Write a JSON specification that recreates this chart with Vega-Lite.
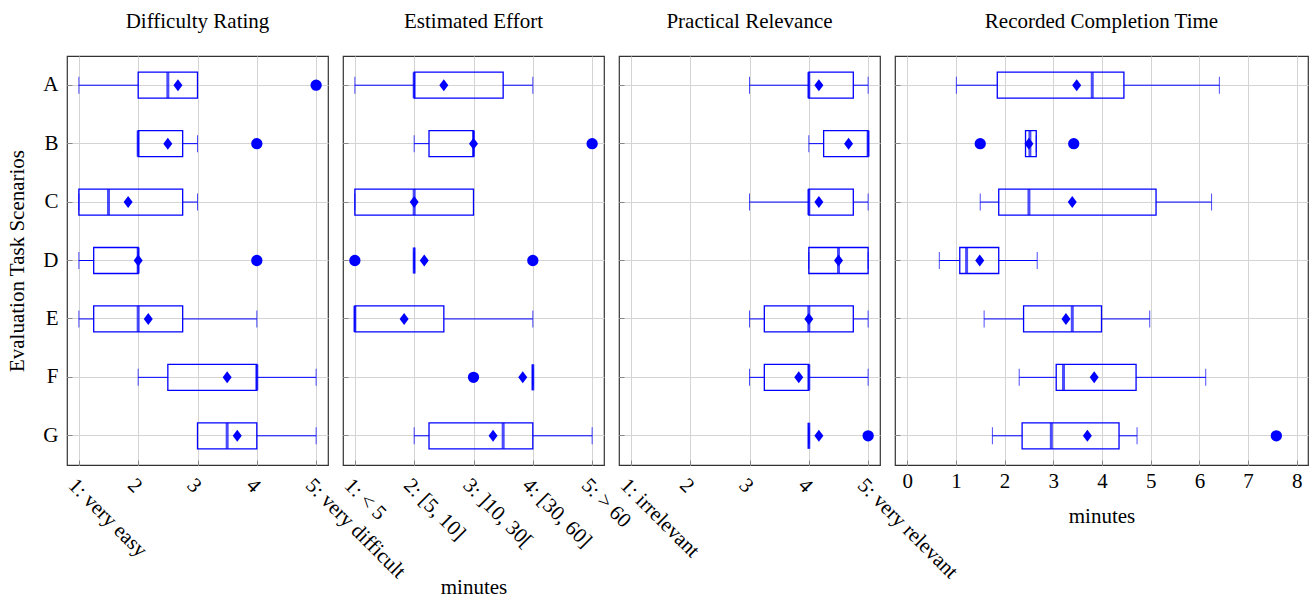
{
  "$schema": "https://vega.github.io/schema/vega-lite/v6.json",
  "padding": {"left": 5, "top": 10, "right": 0, "bottom": 0},
  "background": "white",
  "datasets": {
    "stats": [
      {"panel": "Difficulty", "task": "A", "low": 1, "q1": 2, "median": 2.5, "q3": 3, "high": 3, "mean": 2.67},
      {"panel": "Difficulty", "task": "B", "low": 2, "q1": 2, "median": 2, "q3": 2.75, "high": 3, "mean": 2.5},
      {"panel": "Difficulty", "task": "C", "low": 1, "q1": 1, "median": 1.5, "q3": 2.75, "high": 3, "mean": 1.83},
      {"panel": "Difficulty", "task": "D", "low": 1, "q1": 1.25, "median": 2, "q3": 2, "high": 2, "mean": 2},
      {"panel": "Difficulty", "task": "E", "low": 1, "q1": 1.25, "median": 2, "q3": 2.75, "high": 4, "mean": 2.17},
      {"panel": "Difficulty", "task": "F", "low": 2, "q1": 2.5, "median": 4, "q3": 4, "high": 5, "mean": 3.5},
      {"panel": "Difficulty", "task": "G", "low": 3, "q1": 3, "median": 3.5, "q3": 4, "high": 5, "mean": 3.67},
      {"panel": "Effort", "task": "A", "low": 1, "q1": 2, "median": 2, "q3": 3.5, "high": 4, "mean": 2.5},
      {"panel": "Effort", "task": "B", "low": 2, "q1": 2.25, "median": 3, "q3": 3, "high": 3, "mean": 3},
      {"panel": "Effort", "task": "C", "low": 1, "q1": 1, "median": 2, "q3": 3, "high": 3, "mean": 2},
      {"panel": "Effort", "task": "D", "low": 2, "q1": 2, "median": 2, "q3": 2, "high": 2, "mean": 2.17},
      {"panel": "Effort", "task": "E", "low": 1, "q1": 1, "median": 1, "q3": 2.5, "high": 4, "mean": 1.83},
      {"panel": "Effort", "task": "F", "low": 4, "q1": 4, "median": 4, "q3": 4, "high": 4, "mean": 3.83},
      {"panel": "Effort", "task": "G", "low": 2, "q1": 2.25, "median": 3.5, "q3": 4, "high": 5, "mean": 3.33},
      {"panel": "Relevance", "task": "A", "low": 3, "q1": 4, "median": 4, "q3": 4.75, "high": 5, "mean": 4.17},
      {"panel": "Relevance", "task": "B", "low": 4, "q1": 4.25, "median": 5, "q3": 5, "high": 5, "mean": 4.67},
      {"panel": "Relevance", "task": "C", "low": 3, "q1": 4, "median": 4, "q3": 4.75, "high": 5, "mean": 4.17},
      {"panel": "Relevance", "task": "D", "low": 4, "q1": 4, "median": 4.5, "q3": 5, "high": 5, "mean": 4.5},
      {"panel": "Relevance", "task": "E", "low": 3, "q1": 3.25, "median": 4, "q3": 4.75, "high": 5, "mean": 4},
      {"panel": "Relevance", "task": "F", "low": 3, "q1": 3.25, "median": 4, "q3": 4, "high": 5, "mean": 3.83},
      {"panel": "Relevance", "task": "G", "low": 4, "q1": 4, "median": 4, "q3": 4, "high": 4, "mean": 4.17},
      {"panel": "Time", "task": "A", "low": 1.01, "q1": 1.85, "median": 3.8, "q3": 4.45, "high": 6.41, "mean": 3.48},
      {"panel": "Time", "task": "B", "low": 2.43, "q1": 2.43, "median": 2.52, "q3": 2.65, "high": 2.65, "mean": 2.5},
      {"panel": "Time", "task": "C", "low": 1.5, "q1": 1.88, "median": 2.5, "q3": 5.11, "high": 6.25, "mean": 3.39},
      {"panel": "Time", "task": "D", "low": 0.66, "q1": 1.08, "median": 1.22, "q3": 1.88, "high": 2.67, "mean": 1.49},
      {"panel": "Time", "task": "E", "low": 1.58, "q1": 2.39, "median": 3.39, "q3": 3.99, "high": 4.98, "mean": 3.26},
      {"panel": "Time", "task": "F", "low": 2.3, "q1": 3.06, "median": 3.21, "q3": 4.7, "high": 6.13, "mean": 3.84},
      {"panel": "Time", "task": "G", "low": 1.75, "q1": 2.36, "median": 2.96, "q3": 4.35, "high": 4.72, "mean": 3.7}
    ],
    "outliers": [
      {"panel": "Difficulty", "task": "A", "value": 5},
      {"panel": "Difficulty", "task": "B", "value": 4},
      {"panel": "Difficulty", "task": "D", "value": 4},
      {"panel": "Effort", "task": "B", "value": 5},
      {"panel": "Effort", "task": "D", "value": 1},
      {"panel": "Effort", "task": "D", "value": 4},
      {"panel": "Effort", "task": "F", "value": 3},
      {"panel": "Relevance", "task": "G", "value": 5},
      {"panel": "Time", "task": "B", "value": 1.5},
      {"panel": "Time", "task": "B", "value": 3.42},
      {"panel": "Time", "task": "G", "value": 7.58}
    ]
  },
  "hconcat": [
    {
      "title": "Difficulty Rating",
      "width": 261,
      "height": 409,
      "encoding": {
        "y": {"field": "task", "type": "nominal", "sort": ["A", "B", "C", "D", "E", "F", "G"],
              "scale": {"type": "band", "paddingInner": 0, "paddingOuter": 0},
              "axis": {"title": "Evaluation Task Scenarios", "labelPadding": 14, "minExtent": 25, "maxExtent": 25, "titlePadding": 15}}
      },
      "layer": [
        {"data": {"name": "stats"}, "transform": [{"filter": "datum.panel == 'Difficulty'"}],
         "mark": {"type": "rule", "stroke": "#0000ff", "strokeWidth": 1},
         "encoding": {"x": {"field": "low", "type": "quantitative", "scale": {"domain": [0.8, 5.2], "nice": false, "zero": false},
            "axis": {"title": null, "values": [1, 2, 3, 4, 5], "labelAngle": 45, "labelAlign": "left", "labelBaseline": "top", "labelPadding": 14, "labelOverlap": false,
                     "labelExpr": "datum.value == 1 ? '1: very easy' : datum.value == 5 ? '5: very difficult' : format(datum.value, 'd')"}},
                      "x2": {"field": "q1"}}},
        {"data": {"name": "stats"}, "transform": [{"filter": "datum.panel == 'Difficulty'"}],
         "mark": {"type": "rule", "stroke": "#0000ff", "strokeWidth": 1},
         "encoding": {"x": {"field": "q3", "type": "quantitative"}, "x2": {"field": "high"}}},
        {"data": {"name": "stats"}, "transform": [{"filter": "datum.panel == 'Difficulty'"}],
         "mark": {"type": "tick", "color": "#0000ff", "size": 17, "thickness": 1},
         "encoding": {"x": {"field": "low", "type": "quantitative"}}},
        {"data": {"name": "stats"}, "transform": [{"filter": "datum.panel == 'Difficulty'"}],
         "mark": {"type": "tick", "color": "#0000ff", "size": 17, "thickness": 1},
         "encoding": {"x": {"field": "high", "type": "quantitative"}}},
        {"data": {"name": "stats"}, "transform": [{"filter": "datum.panel == 'Difficulty'"}],
         "mark": {"type": "bar", "size": 26, "fill": "transparent", "stroke": "#0000ff", "strokeWidth": 1.3},
         "encoding": {"x": {"field": "q1", "type": "quantitative"}, "x2": {"field": "q3"}}},
        {"data": {"name": "stats"}, "transform": [{"filter": "datum.panel == 'Difficulty'"}],
         "mark": {"type": "tick", "color": "#0000ff", "size": 26, "thickness": 3},
         "encoding": {"x": {"field": "median", "type": "quantitative"}}},
        {"data": {"name": "stats"}, "transform": [{"filter": "datum.panel == 'Difficulty'"}],
         "mark": {"type": "point", "shape": "M0,-1L0.75,0L0,1L-0.75,0Z", "size": 144, "filled": true, "color": "#0000ff", "opacity": 1},
         "encoding": {"x": {"field": "mean", "type": "quantitative"}}},
        {"data": {"name": "outliers"}, "transform": [{"filter": "datum.panel == 'Difficulty'"}],
         "mark": {"type": "circle", "size": 128, "color": "#0000ff", "opacity": 1},
         "encoding": {"x": {"field": "value", "type": "quantitative"}}}
      ]
    },
    {
      "title": "Estimated Effort",
      "width": 261,
      "height": 409,
      "encoding": {
        "y": {"field": "task", "type": "nominal", "sort": ["A", "B", "C", "D", "E", "F", "G"],
              "scale": {"type": "band", "paddingInner": 0, "paddingOuter": 0},
              "axis": {"title": null, "labels": false}}
      },
      "layer": [
        {"data": {"name": "stats"}, "transform": [{"filter": "datum.panel == 'Effort'"}],
         "mark": {"type": "rule", "stroke": "#0000ff", "strokeWidth": 1},
         "encoding": {"x": {"field": "low", "type": "quantitative", "scale": {"domain": [0.8, 5.2], "nice": false, "zero": false},
            "axis": {"title": "minutes", "titlePadding": 25, "values": [1, 2, 3, 4, 5], "labelAngle": 45, "labelAlign": "left", "labelBaseline": "top", "labelPadding": 14, "labelOverlap": false,
                     "labelExpr": "['', '1: < 5', '2: [5, 10]', '3: ]10, 30[', '4: [30, 60]', '5: > 60'][datum.value]"}},
                      "x2": {"field": "q1"}}},
        {"data": {"name": "stats"}, "transform": [{"filter": "datum.panel == 'Effort'"}],
         "mark": {"type": "rule", "stroke": "#0000ff", "strokeWidth": 1},
         "encoding": {"x": {"field": "q3", "type": "quantitative"}, "x2": {"field": "high"}}},
        {"data": {"name": "stats"}, "transform": [{"filter": "datum.panel == 'Effort'"}],
         "mark": {"type": "tick", "color": "#0000ff", "size": 17, "thickness": 1},
         "encoding": {"x": {"field": "low", "type": "quantitative"}}},
        {"data": {"name": "stats"}, "transform": [{"filter": "datum.panel == 'Effort'"}],
         "mark": {"type": "tick", "color": "#0000ff", "size": 17, "thickness": 1},
         "encoding": {"x": {"field": "high", "type": "quantitative"}}},
        {"data": {"name": "stats"}, "transform": [{"filter": "datum.panel == 'Effort'"}],
         "mark": {"type": "bar", "size": 26, "fill": "transparent", "stroke": "#0000ff", "strokeWidth": 1.3},
         "encoding": {"x": {"field": "q1", "type": "quantitative"}, "x2": {"field": "q3"}}},
        {"data": {"name": "stats"}, "transform": [{"filter": "datum.panel == 'Effort'"}],
         "mark": {"type": "tick", "color": "#0000ff", "size": 26, "thickness": 3},
         "encoding": {"x": {"field": "median", "type": "quantitative"}}},
        {"data": {"name": "stats"}, "transform": [{"filter": "datum.panel == 'Effort'"}],
         "mark": {"type": "point", "shape": "M0,-1L0.75,0L0,1L-0.75,0Z", "size": 144, "filled": true, "color": "#0000ff", "opacity": 1},
         "encoding": {"x": {"field": "mean", "type": "quantitative"}}},
        {"data": {"name": "outliers"}, "transform": [{"filter": "datum.panel == 'Effort'"}],
         "mark": {"type": "circle", "size": 128, "color": "#0000ff", "opacity": 1},
         "encoding": {"x": {"field": "value", "type": "quantitative"}}}
      ]
    },
    {
      "title": "Practical Relevance",
      "width": 261,
      "height": 409,
      "encoding": {
        "y": {"field": "task", "type": "nominal", "sort": ["A", "B", "C", "D", "E", "F", "G"],
              "scale": {"type": "band", "paddingInner": 0, "paddingOuter": 0},
              "axis": {"title": null, "labels": false}}
      },
      "layer": [
        {"data": {"name": "stats"}, "transform": [{"filter": "datum.panel == 'Relevance'"}],
         "mark": {"type": "rule", "stroke": "#0000ff", "strokeWidth": 1},
         "encoding": {"x": {"field": "low", "type": "quantitative", "scale": {"domain": [0.8, 5.2], "nice": false, "zero": false},
            "axis": {"title": null, "values": [1, 2, 3, 4, 5], "labelAngle": 45, "labelAlign": "left", "labelBaseline": "top", "labelPadding": 14, "labelOverlap": false,
                     "labelExpr": "datum.value == 1 ? '1: irrelevant' : datum.value == 5 ? '5: very relevant' : format(datum.value, 'd')"}},
                      "x2": {"field": "q1"}}},
        {"data": {"name": "stats"}, "transform": [{"filter": "datum.panel == 'Relevance'"}],
         "mark": {"type": "rule", "stroke": "#0000ff", "strokeWidth": 1},
         "encoding": {"x": {"field": "q3", "type": "quantitative"}, "x2": {"field": "high"}}},
        {"data": {"name": "stats"}, "transform": [{"filter": "datum.panel == 'Relevance'"}],
         "mark": {"type": "tick", "color": "#0000ff", "size": 17, "thickness": 1},
         "encoding": {"x": {"field": "low", "type": "quantitative"}}},
        {"data": {"name": "stats"}, "transform": [{"filter": "datum.panel == 'Relevance'"}],
         "mark": {"type": "tick", "color": "#0000ff", "size": 17, "thickness": 1},
         "encoding": {"x": {"field": "high", "type": "quantitative"}}},
        {"data": {"name": "stats"}, "transform": [{"filter": "datum.panel == 'Relevance'"}],
         "mark": {"type": "bar", "size": 26, "fill": "transparent", "stroke": "#0000ff", "strokeWidth": 1.3},
         "encoding": {"x": {"field": "q1", "type": "quantitative"}, "x2": {"field": "q3"}}},
        {"data": {"name": "stats"}, "transform": [{"filter": "datum.panel == 'Relevance'"}],
         "mark": {"type": "tick", "color": "#0000ff", "size": 26, "thickness": 3},
         "encoding": {"x": {"field": "median", "type": "quantitative"}}},
        {"data": {"name": "stats"}, "transform": [{"filter": "datum.panel == 'Relevance'"}],
         "mark": {"type": "point", "shape": "M0,-1L0.75,0L0,1L-0.75,0Z", "size": 144, "filled": true, "color": "#0000ff", "opacity": 1},
         "encoding": {"x": {"field": "mean", "type": "quantitative"}}},
        {"data": {"name": "outliers"}, "transform": [{"filter": "datum.panel == 'Relevance'"}],
         "mark": {"type": "circle", "size": 128, "color": "#0000ff", "opacity": 1},
         "encoding": {"x": {"field": "value", "type": "quantitative"}}}
      ]
    },
    {
      "title": "Recorded Completion Time",
      "width": 413,
      "height": 409,
      "encoding": {
        "y": {"field": "task", "type": "nominal", "sort": ["A", "B", "C", "D", "E", "F", "G"],
              "scale": {"type": "band", "paddingInner": 0, "paddingOuter": 0},
              "axis": {"title": null, "labels": false}}
      },
      "layer": [
        {"data": {"name": "stats"}, "transform": [{"filter": "datum.panel == 'Time'"}],
         "mark": {"type": "rule", "stroke": "#0000ff", "strokeWidth": 1},
         "encoding": {"x": {"field": "low", "type": "quantitative", "scale": {"domain": [-0.25, 8.23], "nice": false, "zero": false},
            "axis": {"title": "minutes", "titlePadding": 14, "values": [0, 1, 2, 3, 4, 5, 6, 7, 8], "format": "d", "labelAngle": 0, "labelAlign": "center", "labelBaseline": "top", "labelPadding": 10, "labelOverlap": false}},
                      "x2": {"field": "q1"}}},
        {"data": {"name": "stats"}, "transform": [{"filter": "datum.panel == 'Time'"}],
         "mark": {"type": "rule", "stroke": "#0000ff", "strokeWidth": 1},
         "encoding": {"x": {"field": "q3", "type": "quantitative"}, "x2": {"field": "high"}}},
        {"data": {"name": "stats"}, "transform": [{"filter": "datum.panel == 'Time'"}],
         "mark": {"type": "tick", "color": "#0000ff", "size": 17, "thickness": 1},
         "encoding": {"x": {"field": "low", "type": "quantitative"}}},
        {"data": {"name": "stats"}, "transform": [{"filter": "datum.panel == 'Time'"}],
         "mark": {"type": "tick", "color": "#0000ff", "size": 17, "thickness": 1},
         "encoding": {"x": {"field": "high", "type": "quantitative"}}},
        {"data": {"name": "stats"}, "transform": [{"filter": "datum.panel == 'Time'"}],
         "mark": {"type": "bar", "size": 26, "fill": "transparent", "stroke": "#0000ff", "strokeWidth": 1.3},
         "encoding": {"x": {"field": "q1", "type": "quantitative"}, "x2": {"field": "q3"}}},
        {"data": {"name": "stats"}, "transform": [{"filter": "datum.panel == 'Time'"}],
         "mark": {"type": "tick", "color": "#0000ff", "size": 26, "thickness": 3},
         "encoding": {"x": {"field": "median", "type": "quantitative"}}},
        {"data": {"name": "stats"}, "transform": [{"filter": "datum.panel == 'Time'"}],
         "mark": {"type": "point", "shape": "M0,-1L0.75,0L0,1L-0.75,0Z", "size": 144, "filled": true, "color": "#0000ff", "opacity": 1},
         "encoding": {"x": {"field": "mean", "type": "quantitative"}}},
        {"data": {"name": "outliers"}, "transform": [{"filter": "datum.panel == 'Time'"}],
         "mark": {"type": "circle", "size": 128, "color": "#0000ff", "opacity": 1},
         "encoding": {"x": {"field": "value", "type": "quantitative"}}}
      ]
    }
  ],
  "spacing": 15,
  "bounds": "flush",
  "config": {
    "font": "Liberation Serif",
    "view": {"stroke": "#333333", "strokeWidth": 1.2},
    "axis": {"domain": false, "grid": true, "gridColor": "#d4d4d4", "gridWidth": 1, "tickColor": "#888888", "tickSize": -5,
             "labelFont": "Liberation Serif", "labelFontSize": 21, "labelColor": "black",
             "titleFont": "Liberation Serif", "titleFontSize": 21, "titleFontWeight": "normal", "titleColor": "black"},
    "title": {"font": "Liberation Serif", "fontSize": 21, "fontWeight": "normal", "color": "black", "offset": 24}
  }
}
